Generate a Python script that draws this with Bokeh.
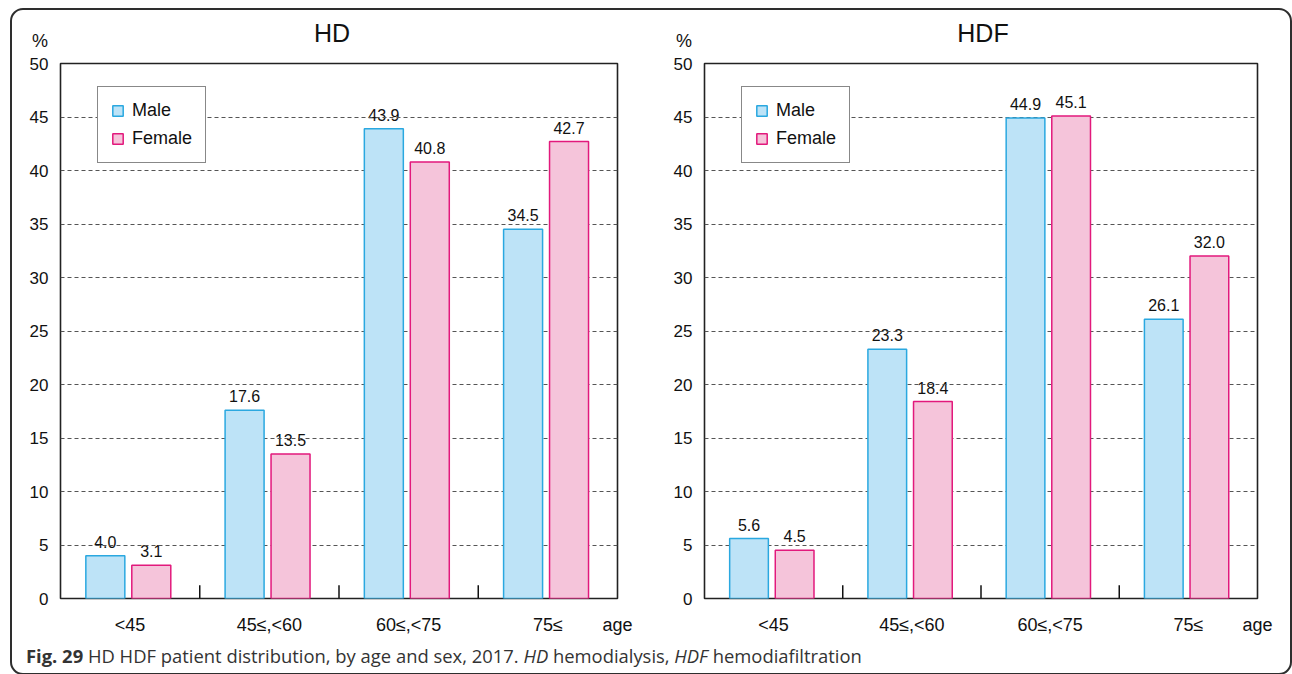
from bokeh.plotting import figure
from bokeh.models import (ColumnDataSource, FixedTicker, LabelSet, Div, Legend,
                          LegendItem, Range1d)
from bokeh.core.properties import value
from bokeh.transform import dodge
from bokeh.layouts import row, column
from bokeh.embed import file_html
from bokeh.resources import INLINE

# Age groups and share of patients (%) by sex, 2017
categories = ["<45", "45\u2264,<60", "60\u2264,<75", "75\u2264"]
hd_male = [4.0, 17.6, 43.9, 34.5]
hd_female = [3.1, 13.5, 40.8, 42.7]
hdf_male = [5.6, 23.3, 44.9, 26.1]
hdf_female = [4.5, 18.4, 45.1, 32.0]
y_ticks = [0, 5, 10, 15, 20, 25, 30, 35, 40, 45, 50]
x_axis_name = "age"

FONT = "Liberation Sans"
MALE_FILL, MALE_LINE = "#bde3f7", "#2aa8e0"
FEMALE_FILL, FEMALE_LINE = "#f5c4da", "#e2197c"
MALE_OFF, FEMALE_OFF = -0.178, 0.152
HEADER_H = 43


def header(title, width, pct_x, title_x):
    span = ("position:absolute;left:{x}px;top:{y}px;transform:translate({tx},-50%);"
            "font-family:'Liberation Sans';font-size:{s}px;line-height:1;color:#111;"
            "white-space:nowrap")
    html = ('<div style="position:relative;width:{w}px;height:{h}px">'
            '<span style="{a}">%</span><span style="{b}">{t}</span></div>').format(
        w=width, h=HEADER_H, t=title,
        a=span.format(x=pct_x, y=31, tx="-100%", s=18),
        b=span.format(x=title_x, y=23, tx="-50%", s=25))
    return Div(text=html, width=width, height=HEADER_H, margin=0)


def make_panel(male, female, frame_w, frame_h, left, top, width, height):
    n = len(categories)
    # each age group occupies one unit on the x axis, centred at i + 0.5
    centres = [i + 0.5 for i in range(n)]
    src = ColumnDataSource(dict(
        pos=centres, male=male, female=female,
        male_lbl=[f"{v:.1f}" for v in male],
        female_lbl=[f"{v:.1f}" for v in female],
    ))
    p = figure(x_range=Range1d(0, n), y_range=Range1d(0, 50),
               width=width, height=height,
               frame_width=frame_w, frame_height=frame_h,
               min_border_left=left, min_border_top=top,
               min_border_right=width - left - frame_w,
               min_border_bottom=height - top - frame_h,
               output_backend="svg", toolbar_location=None)
    p.background_fill_color = "white"
    p.border_fill_color = None
    p.outline_line_color = "#222222"
    p.outline_line_width = 1.6

    # group names at group centres, axis name at the right end
    tick_pos = centres + [float(n)]
    xaxis = p.xaxis[0]
    xaxis.ticker = FixedTicker(ticks=tick_pos)
    xaxis.major_label_overrides = {t: lab for t, lab in
                                   zip(tick_pos, categories + [x_axis_name])}

    p.xgrid.grid_line_color = None
    p.ygrid.ticker = FixedTicker(ticks=y_ticks)
    p.ygrid.grid_line_color = "#555555"
    p.ygrid.grid_line_dash = "4 3"
    p.ygrid.grid_line_width = 1

    p.yaxis.ticker = FixedTicker(ticks=y_ticks)
    for ax in (xaxis, p.yaxis[0]):
        ax.axis_line_color = None
        ax.major_tick_out = 0
        ax.major_tick_in = 0
        ax.minor_tick_out = 0
        ax.minor_tick_in = 0
        ax.major_label_text_font = FONT
        ax.major_label_text_color = "#111111"
    p.yaxis.major_label_text_font_size = "17px"
    p.yaxis.major_label_standoff = 12
    xaxis.major_label_text_font_size = "18px"
    xaxis.major_label_standoff = 16

    # value labels sit under the grid lines
    for col, off in (("male", MALE_OFF), ("female", FEMALE_OFF)):
        p.add_layout(LabelSet(x=dodge("pos", off), y=col,
                              text=col + "_lbl", source=src, level="image",
                              text_align="center", text_baseline="alphabetic",
                              y_offset=8, text_font=value(FONT),
                              text_font_size=value("16px"),
                              text_color=value("#111111")))

    rm = p.vbar(x=dodge("pos", MALE_OFF), top="male", width=0.28,
                bottom=0, source=src, fill_color=MALE_FILL, line_color=MALE_LINE,
                line_width=1.5)
    rf = p.vbar(x=dodge("pos", FEMALE_OFF), top="female", width=0.28,
                bottom=0, source=src, fill_color=FEMALE_FILL, line_color=FEMALE_LINE,
                line_width=1.5)

    # short separators between age groups
    sep = ColumnDataSource(dict(pos=centres[:-1]))
    p.segment(x0=dodge("pos", 0.5), x1=dodge("pos", 0.5),
              y0=0, y1=1.25, source=sep, line_color="#111111", line_width=1.5)

    leg = Legend(items=[LegendItem(label="Male", renderers=[rm]),
                        LegendItem(label="Female", renderers=[rf])],
                 location=(37, frame_h - 100), orientation="vertical",
                 border_line_color="#111111", border_line_width=1.3,
                 background_fill_color="white", background_fill_alpha=1,
                 label_text_font=FONT, label_text_font_size="18px",
                 label_text_color="#111111",
                 glyph_width=13, glyph_height=13, label_standoff=8,
                 padding=13, spacing=7, margin=0, label_height=21)
    p.add_layout(leg, "center")
    return p


# left block spans page x 12..660, right block 660..1290; headers from y=10
h1 = header("HD", 648, pct_x=36, title_x=320)
h2 = header("HDF", 630, pct_x=32, title_x=323)
p1 = make_panel(hd_male, hd_female, 557, 535, 48, 53 - HEADER_H, 648, 630 - HEADER_H)
p2 = make_panel(hdf_male, hdf_female, 553, 535, 44, 52 - HEADER_H, 630, 630 - HEADER_H)

caption = Div(
    text=('<b>Fig. 29</b> HD HDF patient distribution, by age and sex, 2017. '
          '<i>HD</i> hemodialysis, <i>HDF</i> hemodiafiltration'),
    width=1278, height=33, margin=0,
    styles={"font-family": "'Open Sans', sans-serif", "font-size": "18.4px",
            "color": "#333333", "padding-left": "14px", "padding-top": "3px",
            "white-space": "nowrap", "box-sizing": "border-box"},
)

root = column(row(h1, h2, spacing=0), row(p1, p2, spacing=0), caption, spacing=0,
              styles={"border": "2px solid #2e2e2e", "border-radius": "13px",
                      "background": "white"})
root.margin = (8, 0, 0, 10)

open("out.html", "w").write(file_html(root, INLINE))
